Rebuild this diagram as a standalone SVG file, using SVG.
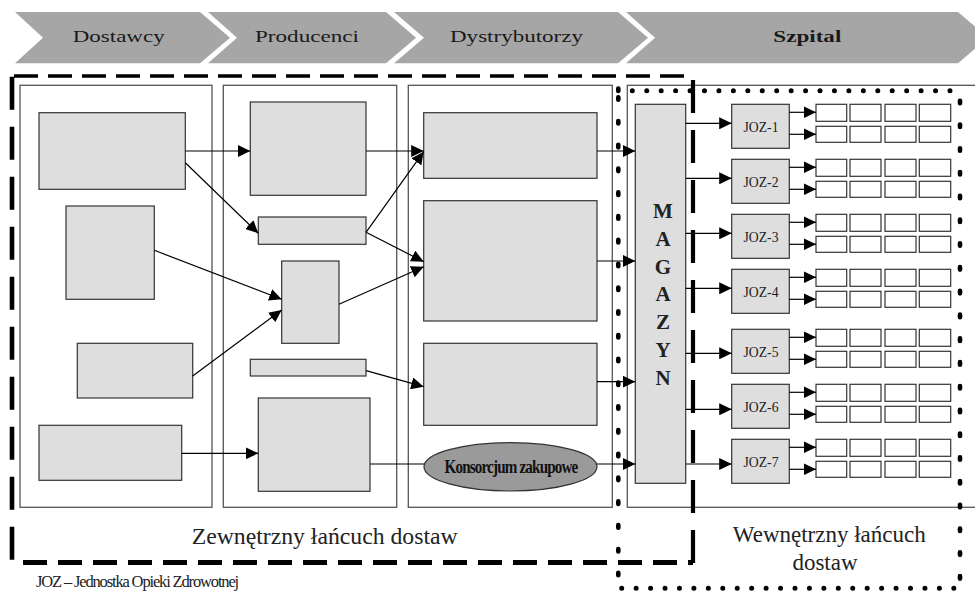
<svg xmlns="http://www.w3.org/2000/svg" width="975" height="593" viewBox="0 0 975 593">
<defs>
<marker id="ah" markerUnits="userSpaceOnUse" markerWidth="13" markerHeight="12" refX="12.5" refY="6" orient="auto"><path d="M0,0 L12.5,6 L0,12 z" fill="#000"/></marker>
<style>
.chev{fill:#a6a6a6}
.ht{font-family:"Liberation Serif","Times New Roman",serif;font-size:17px;fill:#1a1a1a}
.col{fill:none;stroke:#555;stroke-width:1.3}
.gb{fill:#dedede;stroke:#333;stroke-width:1.2}
.wb{fill:#fff;stroke:#333;stroke-width:1.2}
.cn{stroke:#000;stroke-width:1.2;fill:none}
.ar{marker-end:url(#ah)}
.dash{fill:none;stroke:#000;stroke-linecap:butt}
.dotv{fill:none;stroke:#000;stroke-width:4.6;stroke-linecap:round;stroke-dasharray:2.5 21.27}
.doth{fill:none;stroke:#000;stroke-width:5;stroke-linecap:round;stroke-dasharray:0 14.44}
.jt{font-family:"Liberation Serif","Times New Roman",serif;font-size:15px;fill:#222;text-anchor:middle}
.mt{font-family:"Liberation Serif","Times New Roman",serif;font-size:21px;font-weight:bold;fill:#222;text-anchor:middle}
.lt{font-family:"Liberation Serif","Times New Roman",serif;font-size:23px;fill:#222}
</style>
</defs>
<g id="header">
<polygon class="chev" points="15,12 200,12 230,37.7 200,63.3 15,63.3 43,37.7"/>
<polygon class="chev" points="208,12 386,12 416,37.7 386,63.3 208,63.3 237,37.7"/>
<polygon class="chev" points="394,12 618,12 648,37.7 618,63.3 394,63.3 424,37.7"/>
<polygon class="chev" points="626,12 958,12 988,37.7 958,63.3 626,63.3 655,37.7"/>
<text class="ht" x="72.7" y="42.3" textLength="92" lengthAdjust="spacingAndGlyphs">Dostawcy</text>
<text class="ht" x="255" y="42.3" textLength="104" lengthAdjust="spacingAndGlyphs">Producenci</text>
<text class="ht" x="450" y="42.3" textLength="133" lengthAdjust="spacingAndGlyphs">Dystrybutorzy</text>
<text class="ht" x="773.3" y="42.3" textLength="68" lengthAdjust="spacingAndGlyphs" font-weight="bold">Szpital</text>
</g>
<g id="columns">
<rect class="col" x="20" y="85.3" width="192" height="422"/>
<rect class="col" x="223.3" y="85.3" width="173.4" height="422"/>
<rect class="col" x="408.3" y="85.3" width="204" height="422"/>
<rect class="col" x="627.3" y="85.3" width="360" height="422"/>
</g>
<g id="dostawcy">
<rect class="gb" x="39" y="112.7" width="146.3" height="76.6"/>
<rect class="gb" x="66" y="206" width="88.3" height="93.3"/>
<rect class="gb" x="77.3" y="343.3" width="115.4" height="54.7"/>
<rect class="gb" x="39" y="425.3" width="142.7" height="55"/>
</g>
<g id="producenci">
<rect class="gb" x="250.3" y="102" width="115.7" height="93.3"/>
<rect class="gb" x="258.3" y="217" width="107.7" height="27.3"/>
<rect class="gb" x="281.7" y="261" width="57.3" height="82.3"/>
<rect class="gb" x="250.3" y="359.3" width="115.7" height="16.7"/>
<rect class="gb" x="258.3" y="398" width="111.7" height="93.3"/>
</g>
<g id="dystrybutorzy">
<rect class="gb" x="423.7" y="112.7" width="173.3" height="65.6"/>
<rect class="gb" x="423.7" y="200.7" width="173.3" height="120.3"/>
<rect class="gb" x="423.7" y="343.3" width="173.3" height="82"/>
</g>
<g id="konsorcjum">
<ellipse cx="510.5" cy="466.8" rx="86.5" ry="24.2" fill="#9a9a9a" stroke="#333" stroke-width="1.2"/>
<text x="511" y="472.7" font-family="'Liberation Serif','Times New Roman',serif" font-size="18" font-weight="bold" fill="#111" text-anchor="middle" textLength="133" lengthAdjust="spacingAndGlyphs" letter-spacing="-1">Konsorcjum zakupowe</text>
</g>
<g id="magazyn">
<rect class="gb" x="635.3" y="104.3" width="50.4" height="379"/>
<text class="mt" x="663" y="218.3">M</text>
<text class="mt" x="663" y="246">A</text>
<text class="mt" x="663" y="273.7">G</text>
<text class="mt" x="663" y="301.4">A</text>
<text class="mt" x="663" y="329.1">Z</text>
<text class="mt" x="663" y="356.8">Y</text>
<text class="mt" x="663" y="384.5">N</text>
</g>
<g id="joz">
<rect class="gb" x="731.7" y="104.3" width="57.6" height="44"/>
<rect class="gb" x="731.7" y="159.3" width="57.6" height="44"/>
<rect class="gb" x="731.7" y="214.3" width="57.6" height="44"/>
<rect class="gb" x="731.7" y="269.3" width="57.6" height="44"/>
<rect class="gb" x="731.7" y="329.3" width="57.6" height="44"/>
<rect class="gb" x="731.7" y="384.3" width="57.6" height="44"/>
<rect class="gb" x="731.7" y="439.3" width="57.6" height="44"/>
<text class="jt" x="761" y="131.7" textLength="35" lengthAdjust="spacingAndGlyphs">JOZ-1</text>
<text class="jt" x="761" y="186.7" textLength="35" lengthAdjust="spacingAndGlyphs">JOZ-2</text>
<text class="jt" x="761" y="241.7" textLength="35" lengthAdjust="spacingAndGlyphs">JOZ-3</text>
<text class="jt" x="761" y="296.7" textLength="35" lengthAdjust="spacingAndGlyphs">JOZ-4</text>
<text class="jt" x="761" y="356.7" textLength="35" lengthAdjust="spacingAndGlyphs">JOZ-5</text>
<text class="jt" x="761" y="411.7" textLength="35" lengthAdjust="spacingAndGlyphs">JOZ-6</text>
<text class="jt" x="761" y="466.7" textLength="35" lengthAdjust="spacingAndGlyphs">JOZ-7</text>
</g>
<g id="units">
<g id="u1" transform="translate(0,104.3)"><rect class="wb" x="816" y="0" width="30.7" height="17"/><rect class="wb" x="850" y="0" width="31" height="17"/><rect class="wb" x="885" y="0" width="31" height="17"/><rect class="wb" x="919.3" y="0" width="31.4" height="17"/><rect class="wb" x="816" y="22" width="30.7" height="16"/><rect class="wb" x="850" y="22" width="31" height="16"/><rect class="wb" x="885" y="22" width="31" height="16"/><rect class="wb" x="919.3" y="22" width="31.4" height="16"/></g>
<use href="#u1" y="55"/>
<use href="#u1" y="110"/>
<use href="#u1" y="165"/>
<use href="#u1" y="225"/>
<use href="#u1" y="280"/>
<use href="#u1" y="335"/>
</g>
<g id="connectors">
<line class="cn ar" x1="185.3" y1="151" x2="250.3" y2="151"/>
<line class="cn ar" x1="185.3" y1="162.7" x2="258.3" y2="233.3"/>
<line class="cn ar" x1="154.3" y1="250.3" x2="281.7" y2="299.3"/>
<line class="cn ar" x1="192.7" y1="376" x2="281.7" y2="310"/>
<line class="cn ar" x1="181.7" y1="453.3" x2="258.3" y2="453.3"/>
<line class="cn ar" x1="366" y1="151" x2="423.7" y2="151"/>
<line class="cn ar" x1="366" y1="232.3" x2="423.7" y2="151.7"/>
<line class="cn ar" x1="366" y1="232.3" x2="423.7" y2="261.7"/>
<line class="cn ar" x1="339" y1="304.3" x2="423.7" y2="266.7"/>
<line class="cn ar" x1="366" y1="370.7" x2="423.7" y2="386.7"/>
<line class="cn" x1="370" y1="464" x2="424" y2="464"/>
<line class="cn ar" x1="597" y1="151" x2="635.3" y2="151"/>
<line class="cn ar" x1="597" y1="261" x2="635.3" y2="261"/>
<line class="cn ar" x1="597" y1="381.7" x2="635.3" y2="381.7"/>
<line class="cn ar" x1="597" y1="464" x2="635.3" y2="464"/>
<line class="cn ar" x1="685.7" y1="123.3" x2="731.7" y2="123.3"/>
<line class="cn ar" x1="685.7" y1="178.3" x2="731.7" y2="178.3"/>
<line class="cn ar" x1="685.7" y1="233.3" x2="731.7" y2="233.3"/>
<line class="cn ar" x1="685.7" y1="288.3" x2="731.7" y2="288.3"/>
<line class="cn ar" x1="685.7" y1="353.3" x2="731.7" y2="353.3"/>
<line class="cn ar" x1="685.7" y1="409.3" x2="731.7" y2="409.3"/>
<line class="cn ar" x1="685.7" y1="464" x2="731.7" y2="464"/>
<line class="cn ar" x1="789.3" y1="112.3" x2="816" y2="112.3"/>
<line class="cn ar" x1="789.3" y1="134.3" x2="816" y2="134.3"/>
<line class="cn ar" x1="789.3" y1="167.3" x2="816" y2="167.3"/>
<line class="cn ar" x1="789.3" y1="189.3" x2="816" y2="189.3"/>
<line class="cn ar" x1="789.3" y1="222.3" x2="816" y2="222.3"/>
<line class="cn ar" x1="789.3" y1="244.3" x2="816" y2="244.3"/>
<line class="cn ar" x1="789.3" y1="277.3" x2="816" y2="277.3"/>
<line class="cn ar" x1="789.3" y1="299.3" x2="816" y2="299.3"/>
<line class="cn ar" x1="789.3" y1="337.3" x2="816" y2="337.3"/>
<line class="cn ar" x1="789.3" y1="359.3" x2="816" y2="359.3"/>
<line class="cn ar" x1="789.3" y1="392.3" x2="816" y2="392.3"/>
<line class="cn ar" x1="789.3" y1="414.3" x2="816" y2="414.3"/>
<line class="cn ar" x1="789.3" y1="447.3" x2="816" y2="447.3"/>
<line class="cn ar" x1="789.3" y1="469.3" x2="816" y2="469.3"/>
</g>
<g id="external-boundary">
<line class="dash" x1="14" y1="76" x2="688" y2="76" stroke-width="3.4" stroke-dasharray="24 10"/>
<line class="dash" x1="12" y1="76.7" x2="12" y2="561" stroke-width="4.6" stroke-dasharray="33 17"/>
<line class="dash" x1="23" y1="562.5" x2="693" y2="562.5" stroke-width="5" stroke-dasharray="24 11"/>
<line class="dash" x1="693" y1="80" x2="693" y2="565" stroke-width="4.2" stroke-dasharray="33 17"/>
</g>
<g id="internal-boundary">
<line class="dotv" x1="618.3" y1="88.5" x2="618.3" y2="92"/>
<line class="dotv" x1="618.3" y1="97.3" x2="618.3" y2="580"/>
<line class="dotv" x1="960" y1="100.7" x2="960" y2="580"/>
<line class="doth" x1="632.3" y1="90.7" x2="952" y2="90.7"/>
<line class="doth" x1="621.7" y1="588.3" x2="958" y2="588.3"/>
</g>
<g id="labels">
<text class="lt" x="191.7" y="544" textLength="266" lengthAdjust="spacingAndGlyphs">Zewnętrzny łańcuch dostaw</text>
<text class="lt" x="829.3" y="541.7" text-anchor="middle">Wewnętrzny łańcuch</text>
<text class="lt" x="825" y="570" text-anchor="middle">dostaw</text>
<text x="36" y="587" font-family="'Liberation Serif','Times New Roman',serif" font-size="17" fill="#222" textLength="202" lengthAdjust="spacingAndGlyphs" letter-spacing="-1.2">JOZ – Jednostka Opieki Zdrowotnej</text>
</g>
</svg>
